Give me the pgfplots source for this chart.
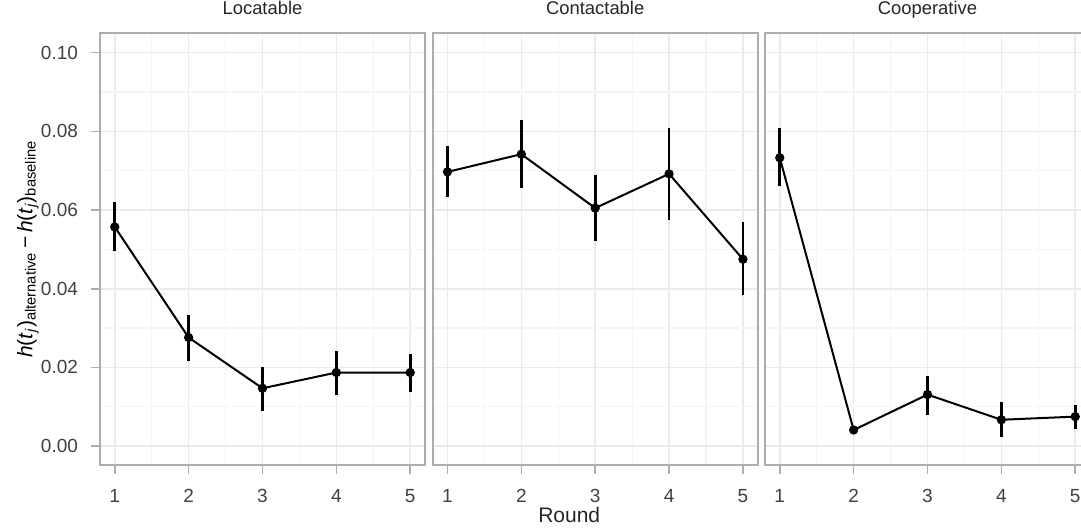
\documentclass[border=0pt]{standalone}
\usepackage{fontspec}
\setmainfont{Liberation Sans}
\usepackage{pgfplots}
\usepackage{pgfplotstable}
\pgfplotsset{compat=1.18}

% round, estimate, lower and upper end of the interval
\pgfplotstableread{
x y lo hi
1 0.0557 0.0495 0.0620
2 0.0276 0.0217 0.0334
3 0.0147 0.0090 0.0202
4 0.0187 0.0130 0.0243
5 0.0187 0.0138 0.0235
}\locatable
\pgfplotstableread{
x y lo hi
1 0.0697 0.0632 0.0763
2 0.0742 0.0655 0.0829
3 0.0605 0.0521 0.0689
4 0.0692 0.0575 0.0809
5 0.0475 0.0383 0.0569
}\contactable
\pgfplotstableread{
x y lo hi
1 0.0733 0.0661 0.0808
2 0.0041 0.0034 0.0048
3 0.0131 0.0079 0.0179
4 0.0067 0.0022 0.0111
5 0.0075 0.0044 0.0105
}\cooperative

\pgfplotsset{
  facet/.style={
    width=162.5pt, height=216pt, scale only axis,
    xmin=0.8, xmax=5.2, ymin=-0.0048, ymax=0.105,
    xtick={1,2,3,4,5}, ytick={0,0.02,0.04,0.06,0.08,0.10},
    minor x tick num=1, minor y tick num=1,
    grid=both,
    major grid style={line width=0.8pt, color=black!8},
    minor grid style={line width=0.6pt, color=black!4},
    axis line style={draw=black!32, line width=0.9pt},
    tick align=outside, xtick pos=left, ytick pos=left,
    major tick length=4.5pt, minor tick length=0pt,
    tick style={black!32, line width=0.8pt},
    /pgf/number format/assume math mode=true,
    tick label style={font=\fontsize{9.5}{10}\selectfont, text=black!75},
    xticklabel style={yshift=-4pt},
    yticklabel style={xshift=-3pt, /pgf/number format/.cd, fixed, fixed zerofill, precision=2},
    title style={at={(0.5,1)}, anchor=base, yshift=3.2pt, inner sep=0pt,
      font=\fontsize{9.2}{10}\selectfont, text=black!85},
  },
  series/.style={black, line width=1pt, mark=*, mark size=1.8pt,
    error bars/.cd, y dir=both, y explicit, error mark=none,
    error bar style={line width=1.4pt}},
}

\begin{document}
\begin{tikzpicture}
\begin{axis}[facet, at={(50pt,31pt)}, anchor=south west, title={Locatable},
  ylabel={\fontsize{10.5}{12}\selectfont\textit{h}(\textit{t}\textsubscript{\textit{j}})\textsubscript{alternative}\,−\,\textit{h}(\textit{t}\textsubscript{\textit{j}})\textsubscript{baseline}},
  ylabel style={at={(axis description cs:-0.222,0.5)}, anchor=center, rotate=0}]
\addplot[series] table[x=x, y=y, y error plus expr=\thisrow{hi}-\thisrow{y},
  y error minus expr=\thisrow{y}-\thisrow{lo}] {\locatable};
\end{axis}
\begin{axis}[facet, at={(216.35pt,31pt)}, anchor=south west, title={Contactable},
  yticklabels={}, ytick style={draw=none},
  xlabel={Round},
  xlabel style={at={(axis description cs:0.42,0)}, anchor=base, yshift=-28.6pt,
    inner sep=0pt, font=\fontsize{10.5}{12}\selectfont, text=black!85}]
\addplot[series] table[x=x, y=y, y error plus expr=\thisrow{hi}-\thisrow{y},
  y error minus expr=\thisrow{y}-\thisrow{lo}] {\contactable};
\end{axis}
\begin{axis}[facet, at={(382.5pt,31pt)}, anchor=south west, title={Cooperative},
  yticklabels={}, ytick style={draw=none}]
\addplot[series] table[x=x, y=y, y error plus expr=\thisrow{hi}-\thisrow{y},
  y error minus expr=\thisrow{y}-\thisrow{lo}] {\cooperative};
\end{axis}
\pgfresetboundingbox
\path[use as bounding box] (0,0) rectangle (540.5pt,263.5pt);
\end{tikzpicture}
\end{document}
